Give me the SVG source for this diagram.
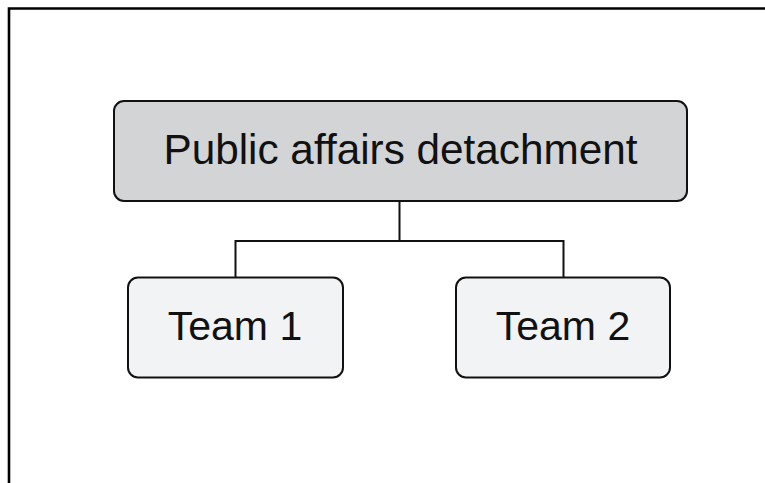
<svg xmlns="http://www.w3.org/2000/svg" width="765" height="483" viewBox="0 0 765 483">
  <style>
    .frame { fill: none; stroke: #000; stroke-width: 2.6; }
    .box { stroke: #111; stroke-width: 2; }
    .main { fill: #d3d4d6; }
    .team { fill: #f2f3f5; }
    .link { fill: none; stroke: #111; stroke-width: 2; }
    .label { font-family: "Liberation Sans", Arial, sans-serif; font-size: 41px; fill: #111; text-anchor: middle; }
    .title { font-size: 42.3px; }
  </style>
  <rect width="765" height="483" fill="#fff"/>
  <!-- frame: top and left rules only -->
  <path class="frame" d="M9 483 V8.5 H765"/>

  <g id="connectors">
    <path class="link" d="M399.5 201 V241 M235.5 241 H563.5 M235.5 240 V278 M563.5 240 V278"/>
  </g>

  <g id="node-pad">
    <rect class="box main" x="114" y="101" width="573" height="100" rx="10"/>
    <text class="label title" x="400.5" y="164">Public affairs detachment</text>
  </g>

  <g id="node-team1">
    <rect class="box team" x="128" y="277.5" width="215" height="100" rx="10"/>
    <text class="label" x="235" y="340">Team 1</text>
  </g>

  <g id="node-team2">
    <rect class="box team" x="456" y="277.5" width="214" height="100" rx="10"/>
    <text class="label" x="563" y="340">Team 2</text>
  </g>
</svg>
